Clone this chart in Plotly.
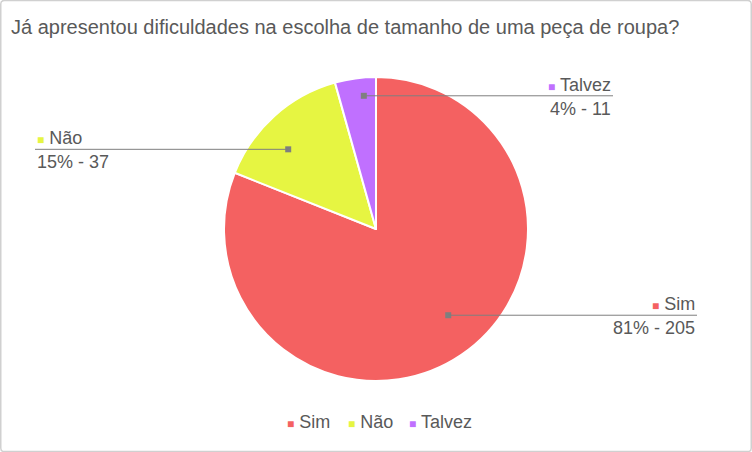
import math
import plotly.graph_objects as go

categories = ["Sim", "Não", "Talvez"]
values = [205, 37, 11]
colors = ["#F46161", "#E6F542", "#C070FF"]
title_text = "Já apresentou dificuldades na escolha de tamanho de uma peça de roupa?"

W, H = 752, 452
cx, cy, R = 376, 229, 152  # pie centre / radius in pixels
FONT = "Liberation Sans, Arial"
gray = "#595959"

fig = go.Figure()
fig.add_trace(go.Pie(
    labels=categories, values=values, sort=False, direction="clockwise", rotation=0,
    marker=dict(colors=colors, line=dict(color="white", width=2)),
    textinfo="none", hoverinfo="label+value+percent", showlegend=False,
    domain=dict(x=[(cx - R) / W, (cx + R) / W], y=[1 - (cy + R) / H, 1 - (cy - R) / H]),
))

total = sum(values)
# leader-line anchor style: radius fraction, angular tweak (deg), line end x (px), side
callouts = {
    "Sim": dict(rf=0.74, dang=-5.8, end=697, side="right"),
    "Não": dict(rf=0.78, dang=-5.8, end=35, side="left"),
    "Talvez": dict(rf=0.88, dang=2.6, end=613, side="right"),
}
shapes = []
annotations = []
cum = 0
for lab, v, col in zip(categories, values, colors):
    mid = (cum + v / 2) / total
    cum += v
    c = callouts[lab]
    ang = 2 * math.pi * mid + math.radians(c["dang"])
    r = R * c["rf"]
    ax = cx + r * math.sin(ang)
    ay = cy - r * math.cos(ang)
    shapes.append(dict(type="rect", xref="paper", yref="paper",
                       x0=(ax - 3) / W, x1=(ax + 3) / W, y0=1 - (ay + 3) / H, y1=1 - (ay - 3) / H,
                       fillcolor="#7F7F7F", line=dict(width=0)))
    if c["side"] == "right":
        lx0, lx1, xa = ax, c["end"], "right"
    else:
        lx0, lx1, xa = c["end"], ax, "left"
    tx = c["end"]
    shapes.append(dict(type="line", xref="paper", yref="paper",
                       x0=lx0 / W, x1=lx1 / W, y0=1 - ay / H, y1=1 - ay / H,
                       line=dict(color="#7F7F7F", width=1)))
    pct = round(100 * v / total)
    annotations.append(dict(xref="paper", yref="paper", x=tx / W, y=1 - (ay - 11) / H,
                            xanchor=xa, yanchor="middle", showarrow=False,
                            text=f"<span style='color:{col};font-size:12px'>■</span> {lab}",
                            font=dict(family=FONT, size=18, color=gray)))
    annotations.append(dict(xref="paper", yref="paper", x=tx / W, y=1 - (ay + 13) / H,
                            xanchor=xa, yanchor="middle", showarrow=False,
                            text=f"{pct}% - {v}",
                            font=dict(family=FONT, size=18, color=gray)))

# custom legend
legend_x = [285, 346, 407]
for lab, col, lx in zip(categories, colors, legend_x):
    annotations.append(dict(xref="paper", yref="paper", x=lx / W, y=1 - 422 / H,
                            xanchor="left", yanchor="middle", showarrow=False,
                            text=f"<span style='color:{col};font-size:12px'>■</span> {lab}",
                            font=dict(family=FONT, size=18, color=gray)))

annotations.append(dict(xref="paper", yref="paper", x=9 / W, y=1 - 27 / H,
                        xanchor="left", yanchor="middle", showarrow=False, text=title_text,
                        font=dict(family=FONT, size=20, color=gray)))

shapes.append(dict(type="path", xref="paper", yref="paper",
                   path="M 0.006,0.001 L 0.994,0.001 Q 0.999,0.001 0.999,0.009 L 0.999,0.991 "
                        "Q 0.999,0.999 0.994,0.999 L 0.006,0.999 Q 0.001,0.999 0.001,0.991 "
                        "L 0.001,0.009 Q 0.001,0.001 0.006,0.001 Z",
                   line=dict(color="#D0D0D0", width=1.5)))

fig.update_layout(
    width=W, height=H, margin=dict(l=0, r=0, t=0, b=0),
    paper_bgcolor="white", plot_bgcolor="white",
    showlegend=False,
    shapes=shapes, annotations=annotations,
)
fig.write_html("out.html", config={"displayModeBar": False},
               post_script="document.body.style.margin='0';")
